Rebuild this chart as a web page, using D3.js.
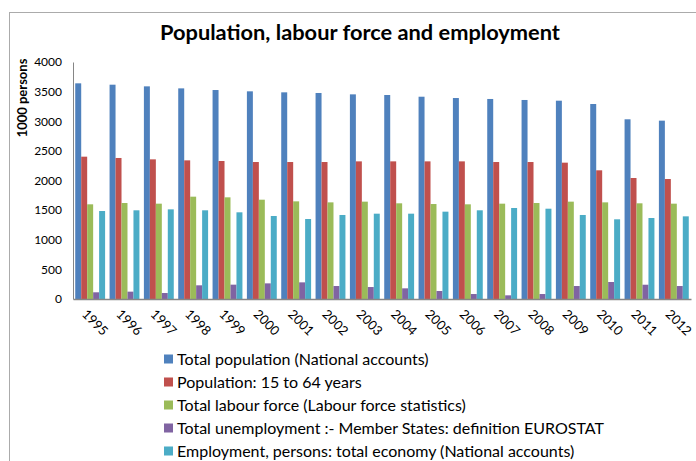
<!DOCTYPE html>
<html>
<head>
<meta charset="utf-8">
<script src="https://cdn.jsdelivr.net/npm/d3@7"></script>
<style>
  body { margin: 0; background: #fff; }
  svg { display: block; font-family: Lato, "Open Sans", sans-serif; }
</style>
</head>
<body>
<svg id="chart" width="696" height="461"></svg>
<script>
const years = ["1995","1996","1997","1998","1999","2000","2001","2002","2003","2004","2005","2006","2007","2008","2009","2010","2011","2012"];
const seriesNames = [
  "Total population (National accounts)",
  "Population: 15 to 64 years",
  "Total labour force (Labour force statistics)",
  "Total unemployment :- Member States: definition EUROSTAT",
  "Employment, persons: total economy (National accounts)"
];
const totalPopulation = [3640,3617,3589,3555,3527,3505,3488,3477,3454,3443,3414,3392,3376,3359,3347,3291,3033,3010];
const population15to64 = [2402,2380,2357,2340,2329,2312,2312,2312,2323,2323,2323,2323,2312,2312,2301,2172,2042,2025];
const labourForce = [1598,1620,1609,1727,1716,1676,1648,1631,1643,1615,1603,1598,1609,1620,1643,1631,1615,1609];
const unemployment = [113,124,101,231,242,264,281,219,202,180,135,84,62,84,219,287,241,219];
const employment = [1485,1497,1513,1497,1463,1401,1350,1418,1440,1440,1474,1497,1536,1524,1418,1345,1367,1395];
const yTicks = [0,500,1000,1500,2000,2500,3000,3500,4000];
const colors = ["#4F81BD","#C0504D","#9BBB59","#8064A2","#4BACC6"];

const allSeries = [totalPopulation, population15to64, labourForce, unemployment, employment];

const svg = d3.select("#chart");

// chart frame
svg.append("rect").attr("x", 9.5).attr("y", 12.5).attr("width", 700).attr("height", 460)
  .attr("fill", "none").attr("stroke", "#ababab").attr("stroke-width", 1);

// title
svg.append("text").attr("x", 360).attr("y", 40).attr("text-anchor", "middle")
  .attr("font-size", 21.8).attr("font-weight", "bold").attr("fill", "#000")
  .text("Population, labour force and employment");

const x0 = d3.scaleBand().domain(years).range([73, 691]).paddingInner(0.13).paddingOuter(0.065);
const x1 = d3.scaleBand().domain(d3.range(5)).range([0, x0.bandwidth()]);
const y = d3.scaleLinear().domain([0, 4000]).range([299, 62]);

// bars
const groups = svg.append("g").selectAll("g").data(years).join("g")
  .attr("transform", d => `translate(${x0(d)},0)`);
groups.selectAll("rect").data((d, i) => allSeries.map((s, k) => ({k, v: s[i]}))).join("rect")
  .attr("x", d => x1(d.k)).attr("width", x1.bandwidth())
  .attr("y", d => y(d.v)).attr("height", d => y(0) - y(d.v))
  .attr("fill", d => colors[d.k]);

// y axis
const yAxis = svg.append("g").attr("transform", "translate(73,0)")
  .call(d3.axisLeft(y).tickValues(yTicks).tickFormat(d3.format("d")).tickSize(0).tickPadding(11));
yAxis.select(".domain").attr("stroke", "#868686");
yAxis.selectAll("text").attr("font-size", 12).attr("fill", "#000").attr("font-family", "Lato, sans-serif");

// x axis
const xAxis = svg.append("g").attr("transform", "translate(0,299)")
  .call(d3.axisBottom(x0).tickSize(0).tickFormat(d => d));
xAxis.select(".domain").attr("stroke", "#868686").attr("stroke-width", 1.5);
xAxis.selectAll("text")
  .attr("font-size", 13).attr("fill", "#000").attr("font-family", "Lato, sans-serif")
  .attr("text-anchor", "start").attr("dy", null).attr("y", 0)
  .attr("transform", "translate(-9,16) rotate(45)");

// y axis title
svg.append("text").attr("transform", "translate(27,98) rotate(-90)")
  .attr("text-anchor", "middle").attr("font-size", 13).attr("font-weight", "bold")
  .text("1000 persons");

// legend
const legend = svg.append("g").selectAll("g").data(seriesNames).join("g")
  .attr("transform", (d, i) => `translate(164,${359 + i * 23})`);
legend.append("rect").attr("x", 0).attr("y", -4.5).attr("width", 9).attr("height", 9)
  .attr("fill", (d, i) => colors[i]);
legend.append("text").attr("x", 13).attr("y", 5.5).attr("font-size", 16).attr("fill", "#000")
  .text(d => d);
</script>
</body>
</html>
